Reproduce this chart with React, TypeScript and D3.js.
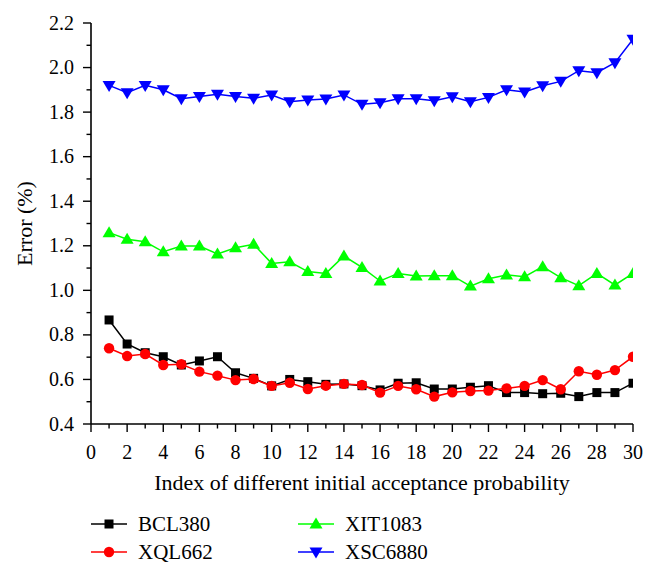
import React from "react";
import * as d3 from "d3";

const indices = d3.range(1, 31);
const xTicks = [0, 2, 4, 6, 8, 10, 12, 14, 16, 18, 20, 22, 24, 26, 28, 30];
const yTicks = [0.4, 0.6, 0.8, 1.0, 1.2, 1.4, 1.6, 1.8, 2.0, 2.2];

const BCL380 = [0.867, 0.759, 0.72, 0.702, 0.665, 0.683, 0.702, 0.63, 0.605, 0.571, 0.6, 0.59, 0.578, 0.58, 0.572,
  0.553, 0.583, 0.585, 0.557, 0.557, 0.565, 0.572, 0.541, 0.541, 0.536, 0.538, 0.523, 0.541, 0.541, 0.583];
const XQL662 = [0.74, 0.705, 0.714, 0.665, 0.668, 0.635, 0.617, 0.597, 0.602, 0.571, 0.585, 0.557, 0.572, 0.58, 0.575,
  0.541, 0.571, 0.556, 0.523, 0.542, 0.548, 0.55, 0.56, 0.571, 0.597, 0.556, 0.637, 0.621, 0.642, 0.702];
const XIT1083 = [1.259, 1.229, 1.218, 1.173, 1.199, 1.199, 1.163, 1.191, 1.207, 1.121, 1.128, 1.084, 1.076, 1.154, 1.103,
  1.042, 1.076, 1.064, 1.066, 1.066, 1.019, 1.052, 1.069, 1.061, 1.106, 1.057, 1.021, 1.076, 1.024, 1.076];
const XSC6880 = [1.92, 1.887, 1.92, 1.9, 1.86, 1.87, 1.88, 1.87, 1.862, 1.877, 1.847, 1.854, 1.859, 1.877, 1.835,
  1.842, 1.86, 1.86, 1.851, 1.869, 1.847, 1.866, 1.9, 1.89, 1.918, 1.938, 1.986, 1.977, 2.022, 2.127];

const series = [
  { name: "BCL380", values: BCL380, color: "#000000", marker: "square" },
  { name: "XQL662", values: XQL662, color: "#ff0000", marker: "circle" },
  { name: "XIT1083", values: XIT1083, color: "#00ff00", marker: "triangle" },
  { name: "XSC6880", values: XSC6880, color: "#0000ff", marker: "triangleDown" },
];

const FONT = "'Liberation Serif', 'DejaVu Serif', serif";

function Marker({ type, x, y, color }: { type: string; x: number; y: number; color: string }) {
  if (type === "square") return <rect x={x - 4.5} y={y - 4.5} width={9} height={9} fill={color} />;
  if (type === "circle") return <circle cx={x} cy={y} r={5.2} fill={color} />;
  if (type === "triangle")
    return <path d={`M${x},${y - 6.5}L${x + 6.5},${y + 4.5}L${x - 6.5},${y + 4.5}Z`} fill={color} />;
  return <path d={`M${x},${y + 6.5}L${x + 6.5},${y - 4.5}L${x - 6.5},${y - 4.5}Z`} fill={color} />;
}

export default function App() {
  const W = 657, H = 576;
  const left = 91, right = 633, top = 23, bottom = 424;
  const x = d3.scaleLinear().domain([0, 30]).range([left, right]);
  const y = d3.scaleLinear().domain([0.4, 2.2]).range([bottom, top]);
  const line = d3.line<number>().x((_, i) => x(indices[i])).y((d) => y(d));
  const minorX = d3.range(0, 31);
  const minorY = d3.range(4, 23).map((v) => v / 10);

  const legendItems = [
    { s: series[0], lx: 91, ly: 524 },
    { s: series[1], lx: 91, ly: 552 },
    { s: series[2], lx: 298, ly: 524 },
    { s: series[3], lx: 298, ly: 552 },
  ];

  return (
    <svg width={W} height={H} style={{ position: "absolute", left: 0, top: 0, background: "#fff" }} fontFamily={FONT}>
      <defs>
        <clipPath id="plotclip">
          <rect x={left} y={0} width={right - left} height={bottom} />
        </clipPath>
      </defs>
      <g clipPath="url(#plotclip)">
        {series.map((s) => (
          <g key={s.name}>
            <path d={line(s.values) || ""} fill="none" stroke={s.color} strokeWidth={1.5} />
            {s.values.map((v, i) => (
              <Marker key={i} type={s.marker} x={x(indices[i])} y={y(v)} color={s.color} />
            ))}
          </g>
        ))}
      </g>
      {/* axes */}
      <line x1={left} x2={left} y1={top} y2={bottom} stroke="#000" strokeWidth={1.6} />
      <line x1={left} x2={right} y1={bottom} y2={bottom} stroke="#000" strokeWidth={1.6} />
      {minorX.map((t) => (
        <line key={"mx" + t} x1={x(t)} x2={x(t)} y1={bottom} y2={bottom + (t % 2 === 0 ? 8 : 4.5)} stroke="#000" strokeWidth={1.4} />
      ))}
      {minorY.map((t, i) => (
        <line key={"my" + i} x1={left - (i % 2 === 0 ? 8 : 4.5)} x2={left} y1={y(t)} y2={y(t)} stroke="#000" strokeWidth={1.4} />
      ))}
      {xTicks.map((t) => (
        <text key={"xt" + t} x={x(t)} y={459} fontSize={20} textAnchor="middle">{t}</text>
      ))}
      {yTicks.map((t) => (
        <text key={"yt" + t} x={74} y={y(t) + 6.5} fontSize={20} textAnchor="end">{t.toFixed(1)}</text>
      ))}
      <text x={(left + right) / 2} y={490} fontSize={22} textAnchor="middle">Index of different initial acceptance probability</text>
      <text transform={`translate(32,${(top + bottom) / 2}) rotate(-90)`} fontSize={22} textAnchor="middle">Error (%)</text>
      {legendItems.map(({ s, lx, ly }) => (
        <g key={"lg" + s.name}>
          <line x1={lx} x2={lx + 36} y1={ly} y2={ly} stroke={s.color} strokeWidth={1.6} />
          <Marker type={s.marker} x={lx + 18} y={ly} color={s.color} />
          <text x={lx + 47} y={ly + 7} fontSize={21}>{s.name}</text>
        </g>
      ))}
    </svg>
  );
}
